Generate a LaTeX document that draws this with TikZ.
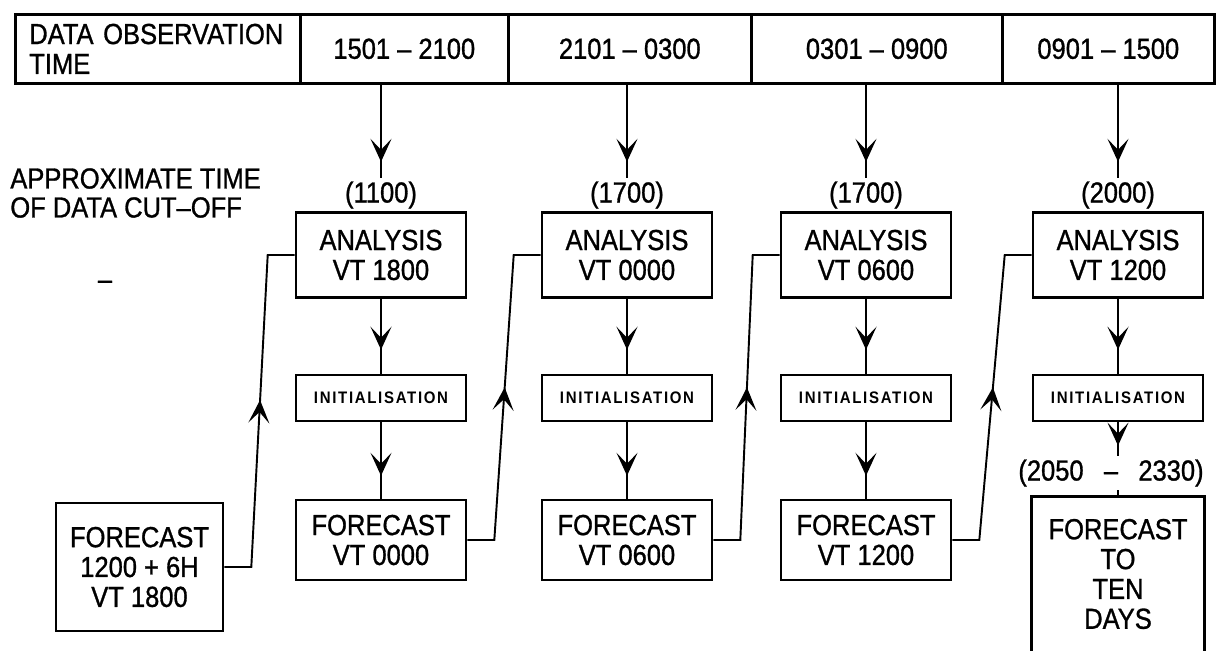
\documentclass[tikz,border=0pt]{standalone}
\usepackage{fontspec}
\setmainfont{Liberation Sans}[FakeStretch=0.88, FakeBold=1]
\newfontfamily\initfont{Liberation Sans}[FakeStretch=0.9, LetterSpace=10]
\usetikzlibrary{arrows.meta, decorations.markings}

\newcommand{\bigText}{\fontsize{16.5}{17}\selectfont}
\newcommand{\smallText}{\initfont\fontsize{9.5}{10}\selectfont\bfseries}
\newcommand{\columnList}{%
    1/381/1100/1800,
    2/627/1700/0000,
    3/866/1700/0600,
    4/1118/2000/1200
}
\newcommand{\forecastList}{%
    1/381/0000,
    2/627/0600,
    3/866/1200
}

\begin{document}
\begin{tikzpicture}[
        x=0.02cm, y=-0.02cm,
        block/.style={draw, line width=1.5pt, align=center, inner sep=0pt, font=\bigText},
        cell/.style={block, anchor=north west, minimum height=1.38cm},
        analysis/.style={block, minimum width=3.4cm, minimum height=1.7cm},
        init/.style={block, minimum width=3.4cm, minimum height=0.92cm, font=\smallText},
        forecast/.style={block, minimum width=3.4cm, minimum height=1.6cm},
        cutoff/.style={font=\bigText, inner sep=2pt},
        link/.style={line width=1.1pt},
        mid arrow/.style={postaction={decorate}, decoration={markings, mark=at position #1 with {\arrow{Stealth[length=0.46cm, width=0.42cm, inset=0.22cm]}}}},
    ]

    \useasboundingbox (0,0) rectangle (1222,650);

    % observation table
    \node[cell, minimum width=5.7cm, text width=5.14cm, inner xsep=0.28cm, align=left] (obs0) at (14,13) {DATA OBSERVATION\\TIME};
    \foreach \n/\x/\w/\period in {1/299/4.16/1501 – 2100, 2/507/4.86/2101 – 0300, 3/750/5.02/0301 – 0900, 4/1001/4.24/0901 – 1500}
        \node[cell, minimum width=\w cm] (obs\n) at (\x,13) {\period};

    \node[font=\fontsize{16.5}{16.5}\selectfont, anchor=west, align=left, inner sep=0pt] (caption) at (10,193) {APPROXIMATE TIME\\OF DATA CUT–OFF};
    \node[font=\bigText] (stray) at (105,285) {–};

    \foreach \i/\cx/\cut/\vt [expand list] in {\columnList} {
        \node[cutoff] (cut\i) at (\cx,195) {(\cut)};
        \node[analysis] (ana\i) at (\cx,255) {ANALYSIS\\VT \vt};
        \node[init] (init\i) at (\cx,398) {INITIALISATION};
        \draw[link, mid arrow=0.83] (cut\i |- obs1.south) -- (cut\i);
        \draw[link] (cut\i) -- (ana\i);
        \draw[link, mid arrow=0.68] (ana\i) -- (init\i);
    }

    \node[forecast, minimum width=3.34cm, minimum height=2.56cm] (fc0) at (139.5,567) {FORECAST\\1200 + 6H\\VT 1800};
    \foreach \i/\cx/\vt [expand list] in {\forecastList} {
        \node[forecast] (fc\i) at (\cx,540) {FORECAST\\VT \vt};
        \draw[link, mid arrow=0.7] (init\i) -- (fc\i);
    }

    % forecast fed back into next analysis
    \foreach \j [count=\i] in {0,1,2,3} {
        \draw[link, mid arrow=0.53] (fc\j.east) -- ++(27,0) -- ([xshift=-0.54cm]ana\i.west) -- (ana\i.west);
    }

    % ten day run
    \node[cutoff] (cut5) at (1111,473) {(2050\hspace{0.7em}–\hspace{0.7em}2330)};
    \draw[link, mid arrow=0.7] (init4) -- (init4 |- cut5.north);
    \node[block, draw=none, minimum width=3.4cm, minimum height=3.04cm] (ten) at (1118,574) {FORECAST\\TO\\TEN\\DAYS};
    \draw[line width=1.5pt] (ten.south west) -- (ten.north west) -- (ten.north east) -- (ten.south east);
    \draw[link] (ten.north |- cut5.south) -- (ten.north);

\end{tikzpicture}
\end{document}
